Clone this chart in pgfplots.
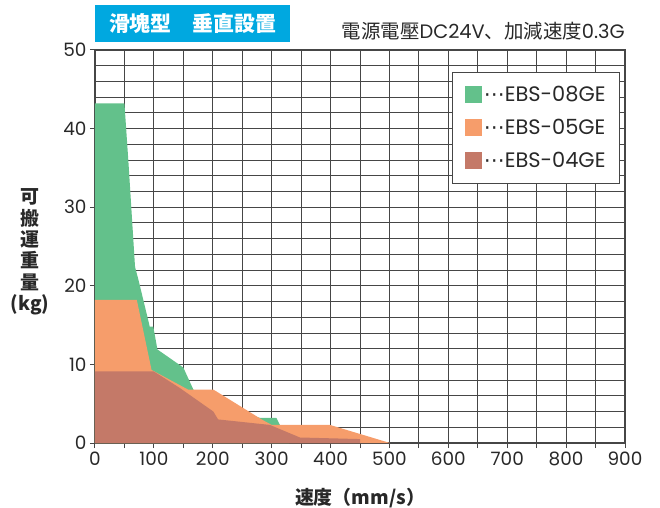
\documentclass[border=0pt]{standalone}
\usepackage{fontspec}
\setmainfont{Poppins}
\newfontfamily\cjk{Noto Sans CJK JP}
\newfontfamily\djv{DejaVu Sans}
\usepackage{pgfplots}
\pgfplotsset{compat=1.18}
\definecolor{c08}{RGB}{99,193,139}
\definecolor{c05}{RGB}{246,157,107}
\definecolor{c04}{RGB}{196,121,104}
\definecolor{titlec}{RGB}{0,168,224}
\definecolor{gridc}{RGB}{70,70,70}
\definecolor{textc}{RGB}{40,40,40}

\begin{document}
\begin{tikzpicture}
\path[use as bounding box] (-95bp,-65bp) rectangle (565bp,443bp);
\begin{axis}[
    name=ax, at={(0,0)}, anchor=south west,
    scale only axis, width=530bp, height=393bp,
    xmin=0, xmax=900, ymin=0, ymax=50,
    xtick={0,100,...,900}, minor xtick={50,150,...,850},
    ytick={0,10,...,50}, minor ytick={2,4,...,48},
    grid=both,
    major grid style={line width=0.9bp, draw=gridc},
    minor grid style={line width=0.9bp, draw=gridc},
    axis line style={line width=1.2bp, draw=gridc},
    tick align=outside, xtick pos=bottom, ytick pos=left,
    major tick length=5bp, minor tick length=5bp,
    tick style={line width=1bp, draw=gridc},
    minor y tick style={draw=none},
    /pgf/number format/assume math mode=true,
    ticklabel style={font=\fontsize{18.5}{20}\selectfont, text=textc},
    xlabel={速度（mm/s）},
    xlabel style={at={(axis description cs:0.5,-0.14)}, anchor=center,
        font=\cjk\bfseries\fontsize{19}{21}\selectfont, text=textc},
    ylabel={可\\搬\\運\\重\\量\\(kg)},
    ylabel style={at={(axis description cs:-0.1226,0.486)}, anchor=center, rotate=-90,
        align=center, font=\cjk\bfseries\fontsize{19}{21.5}\selectfont, text=textc},
    legend style={at={(0.9906,0.944)}, anchor=north east, draw=gridc, line width=1bp,
        font=\fontsize{21}{23}\selectfont, text=textc, row sep=12bp,
        inner xsep=12bp, inner ysep=12bp, cells={anchor=west}},
    legend image code/.code={\fill[#1] (0bp,-8.5bp) rectangle (17bp,8.5bp);},
]
\addplot[fill=c08, draw=none] coordinates {
    (0,43.2) (50,43.2) (57,35.5) (68,22.4) (74,20.7) (93,14.8) (99,14.8)
    (106,11.9) (150,9.6) (167,6.8) (200,5.0) (280,3.2) (308,3.2) (314,2.3) (330,0)
} \closedcycle;
\addlegendentry{{\djv ⋯}EBS-08GE}
\addplot[fill=c05, draw=none] coordinates {
    (0,18.2) (71,18.2) (96,9.3) (158,6.8) (201,6.8) (283,3.0) (300,2.3) (399,2.3) (501,0)
} \closedcycle;
\addlegendentry{{\djv ⋯}EBS-05GE}
\addplot[fill=c04, draw=none] coordinates {
    (0,9.1) (100,9.1) (144,7.0) (201,4.0) (209,3.0) (297,2.3) (348,0.7) (450,0.5) (450,0)
} \closedcycle;
\addlegendentry{{\djv ⋯}EBS-04GE}
\end{axis}
\node[fill=titlec, text=white, anchor=south west, minimum width=195bp, minimum height=37bp,
    inner sep=0pt, font=\cjk\bfseries\fontsize{21}{21}\selectfont]
    at ([yshift=8bp]ax.north west) {滑塊型　垂直設置};
\node[anchor=east, inner sep=0pt, text=textc, font=\fontsize{19.5}{21}\selectfont]
    at ([yshift=19bp]ax.north east) {{\cjk 電源電壓}DC24V{\cjk 、加減速度}0.3G};
\end{tikzpicture}
\end{document}
